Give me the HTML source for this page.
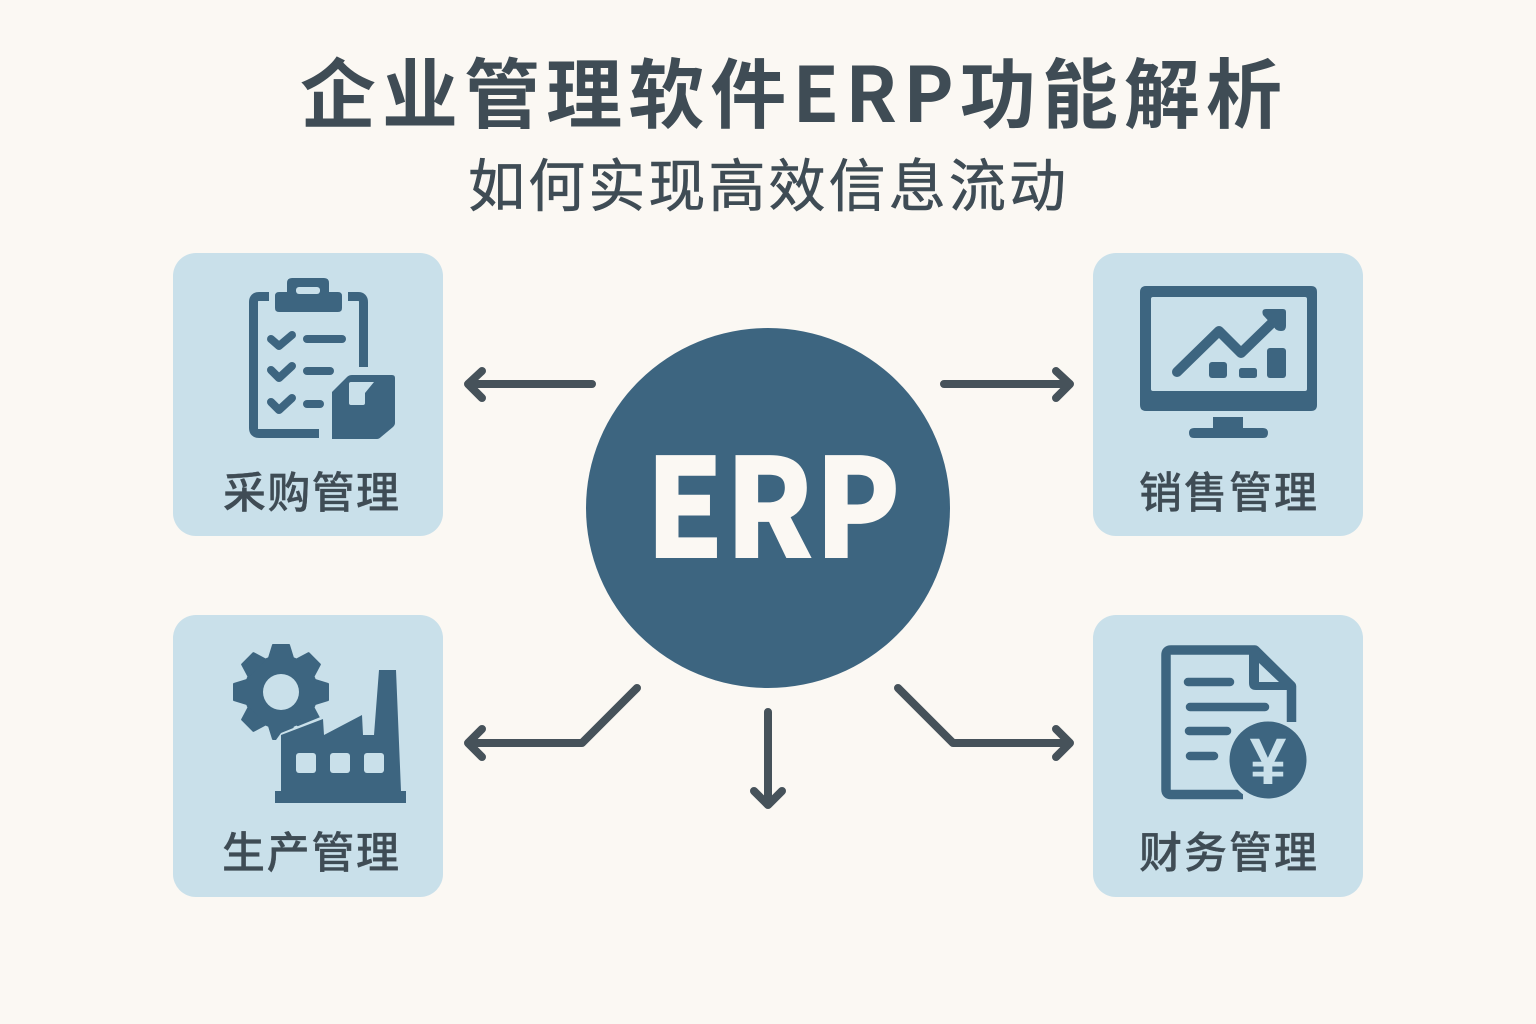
<!DOCTYPE html>
<html lang="zh-CN">
<head>
<meta charset="utf-8">
<title>企业管理软件ERP功能解析</title>
<style>
html,body{margin:0;padding:0;background:#fbf8f3;width:1536px;height:1024px;overflow:hidden}
svg{display:block}
text{font-family:"Liberation Sans","Noto Sans CJK SC",sans-serif}
.cjk{font-family:"Noto Sans CJK SC","Liberation Sans",sans-serif}
.lbl{font-size:43px;font-weight:500;fill:#3f4c55;stroke:#3f4c55;stroke-width:.3}
</style>
</head>
<body>
<svg width="1536" height="1024" viewBox="0 0 1536 1024" xmlns="http://www.w3.org/2000/svg">
<rect width="1536" height="1024" fill="#fbf8f3"/>

<text class="cjk" x="300" y="122" font-size="76" font-weight="700" fill="#3f4c55" textLength="982" lengthAdjust="spacing">企业管理软件ERP功能解析</text>
<text class="cjk" x="468" y="206" font-size="57" font-weight="400" fill="#3f4c55" stroke="#3f4c55" stroke-width=".6" textLength="598" lengthAdjust="spacing">如何实现高效信息流动</text>

<rect x="173" y="253" width="270" height="283" rx="23" fill="#c9e0ea"/>
<rect x="1093" y="253" width="270" height="283" rx="23" fill="#c9e0ea"/>
<rect x="173" y="615" width="270" height="282" rx="23" fill="#c9e0ea"/>
<rect x="1093" y="615" width="270" height="282" rx="23" fill="#c9e0ea"/>

<ellipse cx="768" cy="508" rx="182" ry="180" fill="#3d6580"/>
<text class="cjk" x="645" y="558" font-size="138" font-weight="900" fill="#fbf8f3" textLength="256" lengthAdjust="spacingAndGlyphs">ERP</text>

<g fill="none" stroke="#46525a" stroke-width="8" stroke-linecap="round" stroke-linejoin="round">
<path d="M592,384H470M482,371L468,384L482,398"/>
<path d="M944,384H1068M1056,371L1070,384L1056,398"/>
<path d="M637,688L582,743H470M482,729L468,743L482,757"/>
<path d="M898,688L953,743H1067M1056,729L1070,743L1056,757"/>
<path d="M768,712V804M754,791L768,805L782,791"/>
</g>

<g fill="#3d6580">
<!-- clipboard -->
<g fill="none" stroke="#3d6580" stroke-width="9">
<path d="M269,296.5H259Q253.5,296.5 253.5,302V428Q253.5,433.5 259,433.5H319" stroke-linecap="butt"/>
<path d="M348,296.5H358Q363.5,296.5 363.5,302V367"/>
</g>
<path d="M275,296Q275,292 279,292H287V283Q287,278 292,278H324Q329,278 329,283V292H338Q342,292 342,296V308Q342,312 338,312H279Q275,312 275,308Z"/>
<rect x="296" y="287" width="24" height="7" rx="3" fill="#c9e0ea"/>
<g fill="none" stroke="#3d6580" stroke-width="8" stroke-linecap="round" stroke-linejoin="round">
<path d="M271,339L279,346L292,335"/>
<path d="M271,370L279,378L292,366"/>
<path d="M271,402L279,410L292,398"/>
<path d="M307,339H342"/>
<path d="M307,371H330"/>
<path d="M307,404H320"/>
</g>
<path d="M332,392L347,377Q349,375 352,375H392Q395,375 395,378V423Q395,425 393,427L381,437Q379,439 377,439H332Z"/>
<path d="M351,382H374L365,393V403Q365,405 363,405H351Q349,405 349,403V384Q349,382 351,382Z" fill="#c9e0ea"/>

<!-- monitor -->
<path fill-rule="evenodd" d="M1146,286H1311Q1317,286 1317,292V405Q1317,411 1311,411H1146Q1140,411 1140,405V292Q1140,286 1146,286ZM1153,297Q1151,297 1151,299V389Q1151,391 1153,391H1305Q1307,391 1307,389V299Q1307,297 1305,297Z"/>
<path d="M1213,417H1243V428H1263Q1268,428 1268,433Q1268,438 1263,438H1194Q1189,438 1189,433Q1189,428 1194,428H1213Z"/>
<path d="M1177,372L1219,331L1241,353L1275,320" fill="none" stroke="#3d6580" stroke-width="10" stroke-linecap="round" stroke-linejoin="round"/>
<path d="M1266,309H1283Q1286,309 1286,312V326Q1286,331 1281,331Q1276,331 1274,327L1263,315Q1261,309 1266,309Z"/>
<rect x="1209" y="362" width="18" height="16" rx="3"/>
<rect x="1239" y="368" width="18" height="10" rx="2.5"/>
<rect x="1267" y="348" width="19" height="30" rx="3"/>

<!-- gear -->
<g transform="translate(281,692)" stroke="#3d6580" stroke-width="2" stroke-linejoin="round">
<circle r="37" stroke="none"/>
<path d="M-12,-34L-8,-47H8L12,-34Z"/>
<path d="M-12,-34L-8,-47H8L12,-34Z" transform="rotate(45)"/>
<path d="M-12,-34L-8,-47H8L12,-34Z" transform="rotate(90)"/>
<path d="M-12,-34L-8,-47H8L12,-34Z" transform="rotate(135)"/>
<path d="M-12,-34L-8,-47H8L12,-34Z" transform="rotate(180)"/>
<path d="M-12,-34L-8,-47H8L12,-34Z" transform="rotate(225)"/>
<path d="M-12,-34L-8,-47H8L12,-34Z" transform="rotate(270)"/>
<path d="M-12,-34L-8,-47H8L12,-34Z" transform="rotate(315)"/>
<circle r="18" fill="#c9e0ea" stroke="none"/>
</g>
<path d="M276,740L281,733L323,716V760H281Z" fill="#c9e0ea"/>
<path d="M281,735L323,719L324,735L362,715L363,735H374L379,670H396L401,791H406V803H275V791H281Z"/>
<rect x="296" y="753" width="20" height="20" rx="3" fill="#c9e0ea"/>
<rect x="330" y="753" width="20" height="20" rx="3" fill="#c9e0ea"/>
<rect x="364" y="753" width="20" height="20" rx="3" fill="#c9e0ea"/>

<!-- document -->
<path d="M1243,794.5H1171Q1166,794.5 1166,789.5V655Q1166,650 1171,650H1255L1291.5,686V722" fill="none" stroke="#3d6580" stroke-width="9.5" stroke-linejoin="round"/>
<path fill-rule="evenodd" d="M1249,648H1257L1296,686V690H1256Q1249,690 1249,683ZM1259,663V682H1279Z"/>
<g fill="none" stroke="#3d6580" stroke-width="8.5" stroke-linecap="round">
<path d="M1188,682H1230"/>
<path d="M1190,707H1265"/>
<path d="M1189,731H1227"/>
<path d="M1190,756H1214"/>
</g>
<circle cx="1268" cy="760" r="40.5" fill="#3d6580" stroke="#c9e0ea" stroke-width="4"/>
<text x="1268" y="784" font-size="66" font-weight="700" text-anchor="middle" fill="#c9e0ea">¥</text>
</g>

<text class="cjk lbl" x="223" y="508" textLength="176" lengthAdjust="spacing">采购管理</text>
<text class="cjk lbl" x="1139" y="508" textLength="178" lengthAdjust="spacing">销售管理</text>
<text class="cjk lbl" x="222" y="868" textLength="177" lengthAdjust="spacing">生产管理</text>
<text class="cjk lbl" x="1139" y="868" textLength="178" lengthAdjust="spacing">财务管理</text>
</svg>
</body>
</html>
